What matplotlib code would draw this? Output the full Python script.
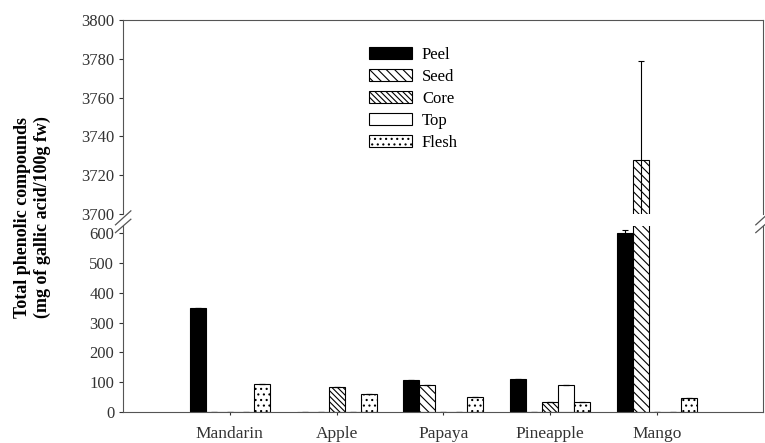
import matplotlib.pyplot as plt
import numpy as np

plt.rcParams['font.family'] = ['Liberation Serif', 'DejaVu Serif']
plt.rcParams['hatch.linewidth'] = 0.8

# Data
fruits = ['Mandarin', 'Apple', 'Papaya', 'Pineapple', 'Mango']
parts = ['Peel', 'Seed', 'Core', 'Top', 'Flesh']
peel = [350, 0, 107, 112, 600]
seed = [0, 0, 92, 0, 3728]
core = [0, 83, 0, 32, 0]
top = [0, 0, 0, 90, 0]
flesh = [95, 60, 50, 35, 48]
peel_err = [0, 0, 0, 0, 13]
seed_err = [0, 0, 0, 0, 51]
core_err = [0, 0, 0, 0, 0]
top_err = [0, 0, 0, 0, 0]
flesh_err = [0, 0, 0, 0, 0]

values = [peel, seed, core, top, flesh]
errors = [peel_err, seed_err, core_err, top_err, flesh_err]
faces = ['black', 'white', 'white', 'white', 'white']
hatches = [None, '\\\\\\\\', '\\\\\\\\\\\\', None, '...']

fig = plt.figure(figsize=(7.65, 4.43), dpi=100)
ax_top = fig.add_axes([0.161, 0.517, 0.837, 0.438])
ax_bot = fig.add_axes([0.161, 0.070, 0.837, 0.420])

x = np.arange(len(fruits))
w = 0.15
for ax in (ax_top, ax_bot):
    for i, part in enumerate(parts):
        ax.bar(x + (i - 2) * w, values[i], w, color=faces[i], edgecolor='black',
               linewidth=0.8, hatch=hatches[i], label=part,
               yerr=errors[i], capsize=2.5, error_kw={'elinewidth': 0.8, 'capthick': 0.8})
    ax.set_xlim(-1.0, 5.0)
    for s in ax.spines.values():
        s.set_color('#555555')
    ax.tick_params(direction='out', length=3, colors='#333333', labelsize=12)

ax_top.set_ylim(3700, 3800)
ax_top.set_yticks(np.arange(3700, 3801, 20))
ax_top.spines['bottom'].set_visible(False)
ax_top.tick_params(axis='x', bottom=False, labelbottom=False)

ax_bot.set_ylim(0, 625)
ax_bot.set_yticks(np.arange(0, 601, 100))
ax_bot.spines['top'].set_visible(False)
ax_bot.set_xticks(x)
ax_bot.set_xticklabels(fruits, fontsize=12.5)
ax_bot.tick_params(axis='x', length=2, pad=8)

# axis break marks
d = 0.012
kw = dict(color='#555555', clip_on=False, linewidth=0.9)
for xs in (0, 1):
    ax_top.plot([xs - d, xs + d], [-0.02 - d * 3, -0.02 + d * 3], transform=ax_top.transAxes, **kw)
    ax_bot.plot([xs - d, xs + d], [1.0 - d * 3, 1.0 + d * 3], transform=ax_bot.transAxes, **kw)

ax_top.legend(loc='upper left', bbox_to_anchor=(0.36, 0.94), frameon=False,
              fontsize=12, handlelength=2.6, handleheight=0.8, labelspacing=0.35,
              handletextpad=0.6)

fig.text(0.043, 0.51, 'Total phenolic compounds\n(mg of gallic acid/100g fw)',
         rotation=90, ha='center', va='center', fontsize=13, fontweight='bold')

fig.savefig('out.png', dpi=100)
